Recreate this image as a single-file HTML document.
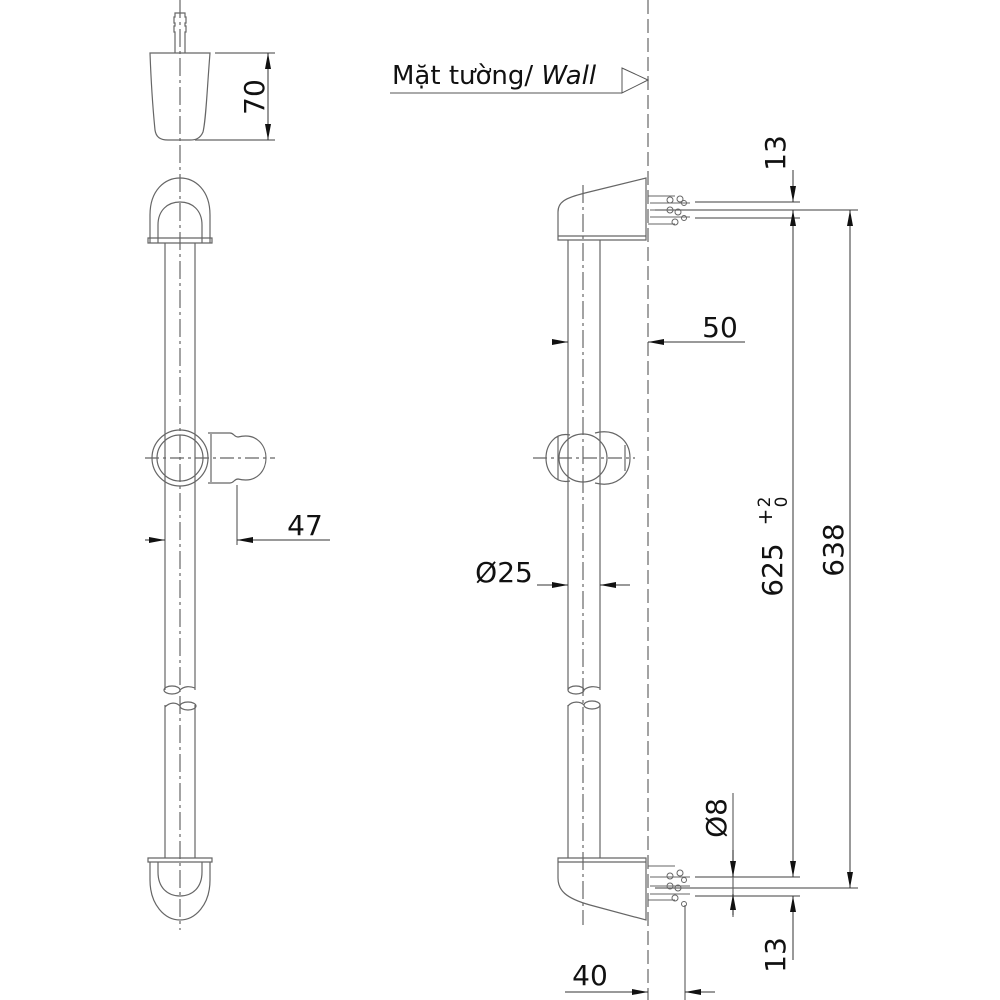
<!DOCTYPE html>
<html><head><meta charset="utf-8"><style>
html,body{margin:0;padding:0;background:#fff;width:1000px;height:1000px;overflow:hidden}
text{font-family:"DejaVu Sans","Liberation Sans",sans-serif;fill:#111}
</style></head><body>
<svg width="1000" height="1000" viewBox="0 0 1000 1000" xmlns="http://www.w3.org/2000/svg">
<defs>
<marker id="a" viewBox="0 0 16 6" refX="16" refY="3" markerWidth="16" markerHeight="6" markerUnits="userSpaceOnUse" orient="auto-start-reverse"><path d="M0,0 L16,3 L0,6 z" fill="#111"/></marker>
</defs>
<g stroke="#666" stroke-width="1.2" fill="none">
<line x1="180" y1="0" x2="180" y2="930" stroke-dasharray="18,4,3,4"/>
<line x1="583" y1="185" x2="583" y2="925" stroke-dasharray="18,4,3,4"/>
<line x1="648" y1="0" x2="648" y2="1000" stroke-dasharray="14,5"/>
<path d="M175,53 V32 h-1 v-6 h1 v-3 h-1 v-6 h1 v-4 h10 v4 h1 v6 h-1 v3 h1 v6 h-1 v21"/>
<path d="M150,53 H210 C207,90 206,120 203,132 C200,139 195,140 190,140 H168 C160,140 156,137 155,130 C153,110 151,80 150,53 Z"/>
<line x1="215" y1="53" x2="275" y2="53"/><line x1="195" y1="140" x2="275" y2="140"/>
<path d="M150,243 V215 C150,190 165,178 180,178 C195,178 210,190 210,215 V243"/>
<path d="M158,243 V225 C158,210 168,202 180,202 C192,202 202,210 202,225 V243"/>
<path d="M148,238 H212 V243 H148 Z"/>
<line x1="165" y1="243" x2="165" y2="690"/><line x1="195" y1="243" x2="195" y2="690"/>
<line x1="165" y1="705" x2="165" y2="858"/><line x1="195" y1="705" x2="195" y2="858"/>
<ellipse cx="172" cy="690" rx="8" ry="4"/><ellipse cx="188" cy="706" rx="8" ry="4"/>
<path d="M180,690 C184,686 190,686 195,688"/><path d="M165,707 C170,702 176,702 180,706"/>
<path d="M148,858 H212 V862 H148 Z"/>
<path d="M150,862 V880 C150,905 165,920 180,920 C195,920 210,905 210,880 V862"/>
<path d="M158,862 V872 C158,888 168,896 180,896 C192,896 202,888 202,872 V862"/>
<circle cx="180" cy="458" r="28"/><circle cx="180" cy="458" r="23"/>
<path d="M208,433 H230 C234,433 234,437 238,437 C258,432 266,447 266,458 C266,469 258,484 238,479 C234,479 234,483 230,483 H208"/>
<line x1="211" y1="434" x2="211" y2="482"/>
<line x1="145" y1="458" x2="275" y2="458" stroke-dasharray="14,4,3,4"/>
<line x1="237" y1="485" x2="237" y2="545"/>
<path d="M558,240 V212 C558,202 565,198 585,193 L646,178 V240 Z"/>
<line x1="558" y1="236" x2="646" y2="236"/>
<line x1="568" y1="240" x2="568" y2="690"/><line x1="600" y1="240" x2="600" y2="690"/>
<line x1="568" y1="705" x2="568" y2="858"/><line x1="600" y1="705" x2="600" y2="858"/>
<ellipse cx="576" cy="690" rx="8" ry="4"/><ellipse cx="592" cy="705" rx="8" ry="4"/>
<path d="M568,706 C572,701 580,701 584,705"/><path d="M584,690 C588,686 595,686 600,688"/>
<path d="M558,858 H646 V920 L590,905 C565,898 558,890 558,878 Z"/>
<line x1="558" y1="862" x2="646" y2="862"/>
<circle cx="583" cy="458" r="24"/>
<path d="M570,435 C555,432 546,445 546,458 C546,471 555,484 570,481"/>
<path d="M595,433 C615,428 630,440 630,458 C630,476 615,488 595,483"/>
<line x1="558" y1="436" x2="558" y2="480"/><line x1="625" y1="445" x2="625" y2="471"/>
<line x1="533" y1="458" x2="635" y2="458" stroke-dasharray="14,4,3,4"/>
<g stroke-width="1">
<line x1="648" y1="196" x2="675" y2="196"/><line x1="648" y1="224" x2="675" y2="224"/>
<line x1="650" y1="203" x2="690" y2="203"/><line x1="650" y1="210" x2="690" y2="210"/><line x1="650" y1="217" x2="690" y2="217"/>
<circle cx="670" cy="200" r="3"/><circle cx="680" cy="199" r="3"/><circle cx="670" cy="210" r="3"/><circle cx="678" cy="212" r="3"/><circle cx="675" cy="222" r="3"/><circle cx="684" cy="203" r="2.5"/><circle cx="684" cy="218" r="2.5"/>
<line x1="648" y1="866" x2="675" y2="866"/><line x1="648" y1="900" x2="675" y2="900"/>
<line x1="650" y1="877" x2="690" y2="877"/><line x1="650" y1="886" x2="690" y2="886"/><line x1="650" y1="894" x2="690" y2="894"/>
<circle cx="670" cy="876" r="3"/><circle cx="680" cy="873" r="3"/><circle cx="670" cy="886" r="3"/><circle cx="678" cy="888" r="3"/><circle cx="675" cy="898" r="3"/><circle cx="684" cy="904" r="2.5"/><circle cx="684" cy="880" r="2.5"/>
</g>
<line x1="695" y1="202" x2="800" y2="202"/><line x1="655" y1="210" x2="858" y2="210"/><line x1="695" y1="218" x2="800" y2="218"/>
<line x1="695" y1="877" x2="800" y2="877"/><line x1="655" y1="888" x2="858" y2="888"/><line x1="695" y1="896" x2="800" y2="896"/>
<line x1="685" y1="905" x2="685" y2="1000"/>
<line x1="733" y1="793" x2="733" y2="917"/>
</g>
<g stroke="#333" stroke-width="1" fill="none">
<line x1="268" y1="53" x2="268" y2="140" marker-start="url(#a)" marker-end="url(#a)"/>
<line x1="145" y1="540" x2="165" y2="540" marker-end="url(#a)"/>
<line x1="330" y1="540" x2="237" y2="540" marker-end="url(#a)"/>
<line x1="552" y1="342" x2="568" y2="342" marker-end="url(#a)"/>
<line x1="745" y1="342" x2="648" y2="342" marker-end="url(#a)"/>
<line x1="537" y1="585" x2="568" y2="585" marker-end="url(#a)"/>
<line x1="630" y1="585" x2="600" y2="585" marker-end="url(#a)"/>
<line x1="793" y1="170" x2="793" y2="202" marker-end="url(#a)"/>
<line x1="793" y1="877" x2="793" y2="210" marker-end="url(#a)"/>
<line x1="793" y1="240" x2="793" y2="877" marker-end="url(#a)"/>
<line x1="793" y1="960" x2="793" y2="896" marker-end="url(#a)"/>
<line x1="850" y1="210" x2="850" y2="888" marker-start="url(#a)" marker-end="url(#a)"/>
<line x1="733" y1="850" x2="733" y2="877" marker-end="url(#a)"/>
<line x1="733" y1="915" x2="733" y2="894" marker-end="url(#a)"/>
<line x1="565" y1="992" x2="648" y2="992" marker-end="url(#a)"/>
<line x1="715" y1="992" x2="685" y2="992" marker-end="url(#a)"/>
<line x1="390" y1="93" x2="622" y2="93" stroke="#555"/>
<path d="M622,68 L648,80 L622,93 Z" fill="#fff" stroke="#555"/>
</g>
<text x="392" y="84" font-size="26">Mặt tường/ <tspan font-style="italic">Wall</tspan></text>
<text transform="translate(264,97) rotate(-90)" font-size="28" text-anchor="middle">70</text>
<text x="305" y="535" font-size="28" text-anchor="middle">47</text>
<text x="720" y="337" font-size="28" text-anchor="middle">50</text>
<text x="504" y="582" font-size="28" text-anchor="middle">Ø25</text>
<text transform="translate(785,153) rotate(-90)" font-size="28" text-anchor="middle">13</text>
<text transform="translate(785,955) rotate(-90)" font-size="28" text-anchor="middle">13</text>
<text transform="translate(843,550) rotate(-90)" font-size="28" text-anchor="middle">638</text>
<text transform="translate(782,570) rotate(-90)" font-size="28" text-anchor="middle">625</text>
<text transform="translate(772,517) rotate(-90)" font-size="20" text-anchor="middle">+</text>
<text transform="translate(770,502) rotate(-90)" font-size="17" text-anchor="middle">2</text>
<text transform="translate(787,502) rotate(-90)" font-size="17" text-anchor="middle">0</text>
<text transform="translate(726,818) rotate(-90)" font-size="28" text-anchor="middle">Ø8</text>
<text x="590" y="985" font-size="28" text-anchor="middle">40</text>
</svg>
</body></html>
